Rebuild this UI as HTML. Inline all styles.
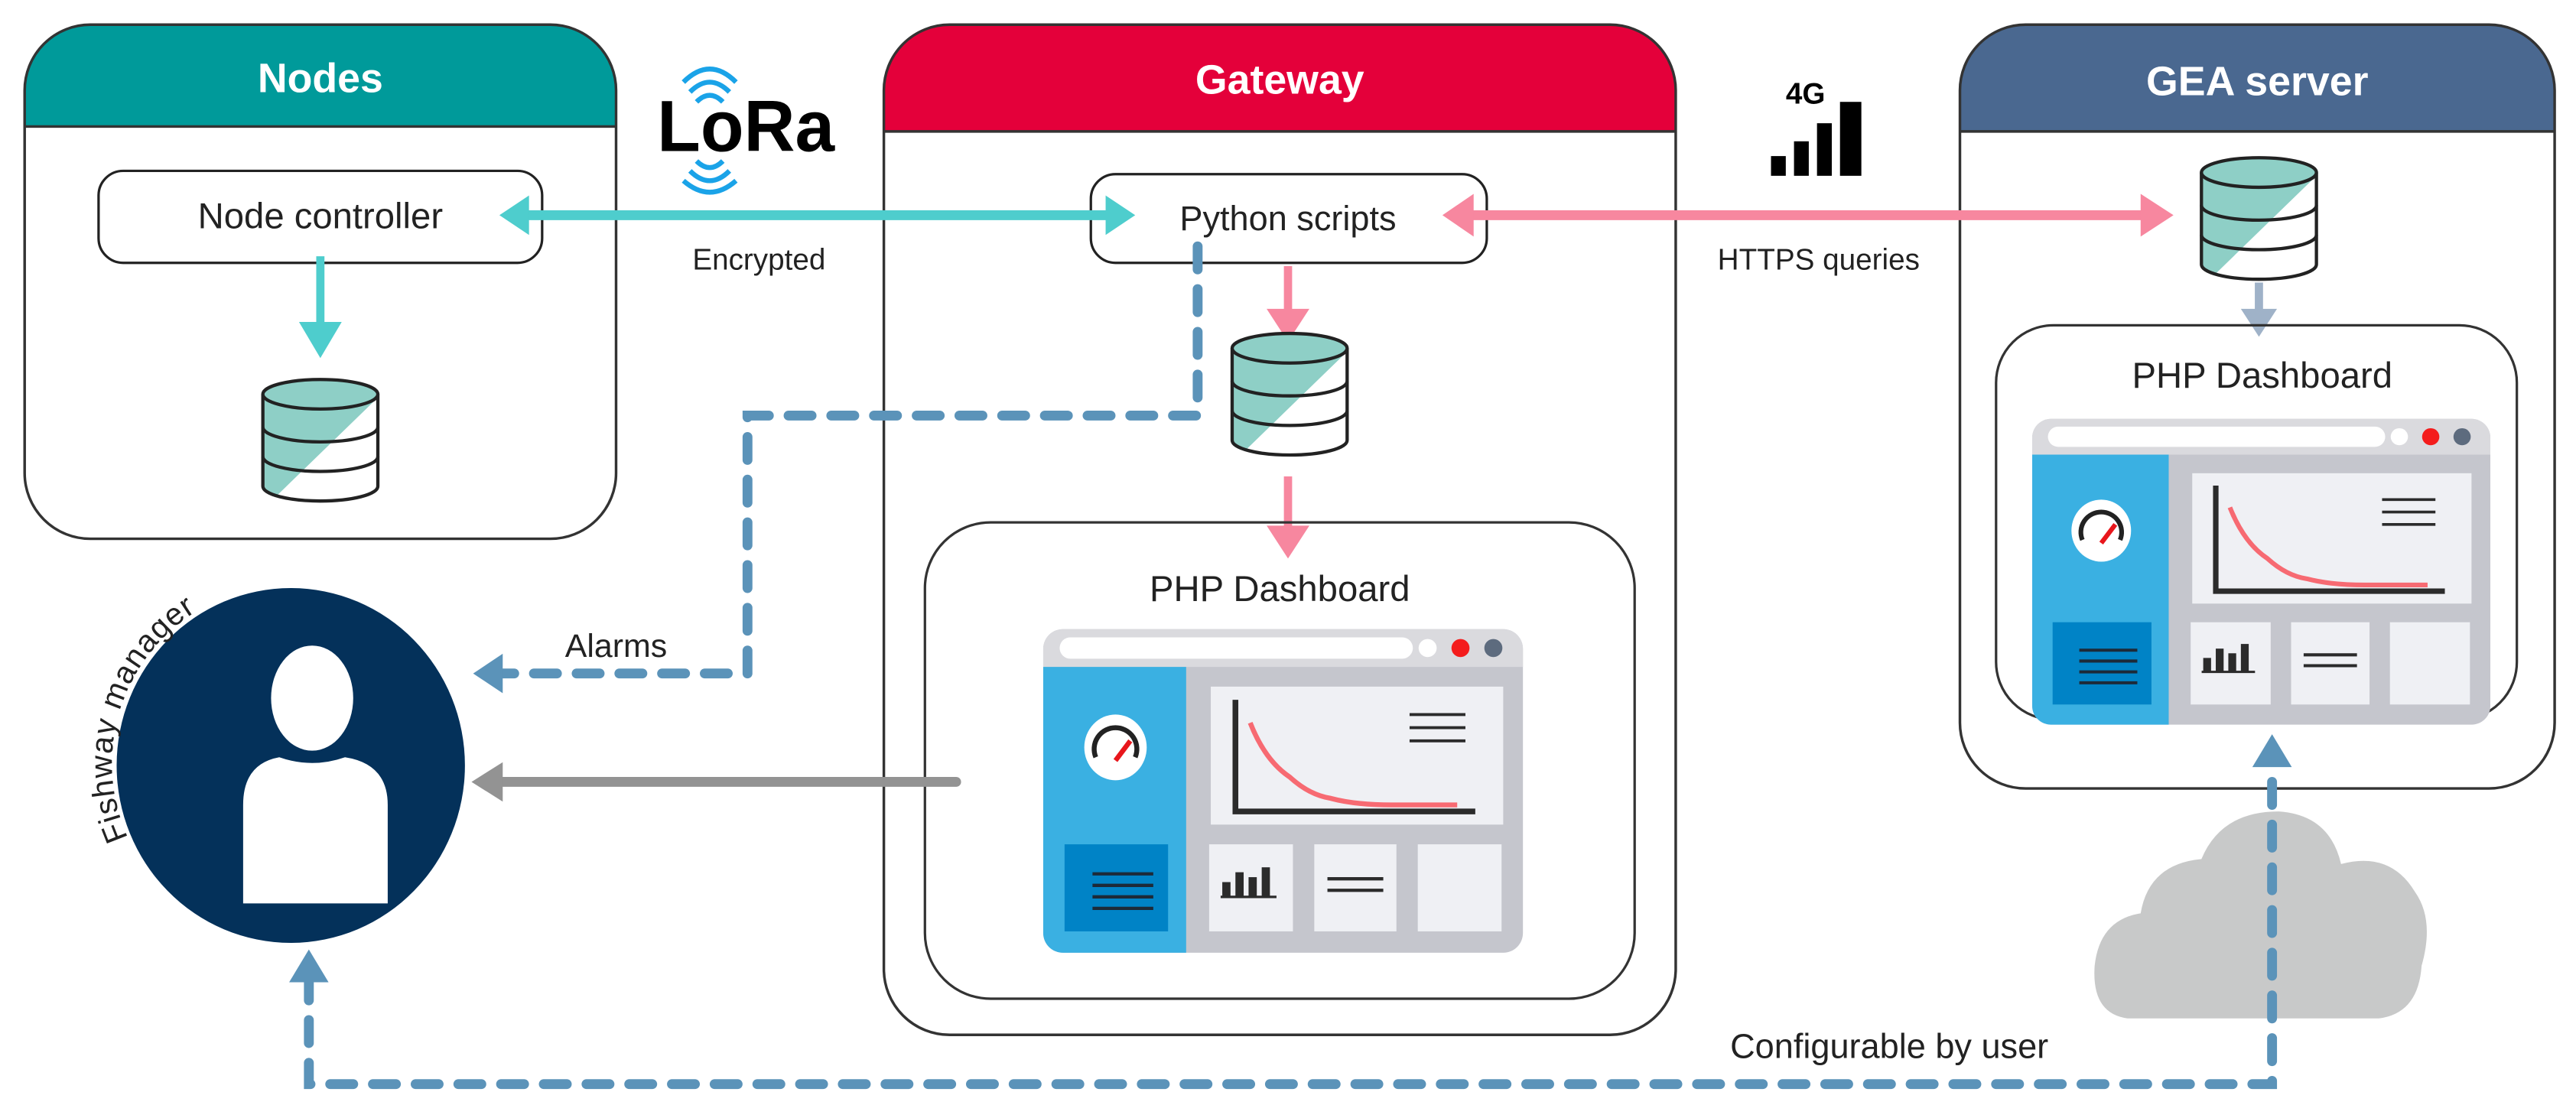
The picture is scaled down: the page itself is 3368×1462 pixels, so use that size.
<!DOCTYPE html>
<html><head><meta charset="utf-8"><style>
html,body{margin:0;padding:0;background:#fff;}
svg{display:block;}
text{font-family:"Liberation Sans",Arial,sans-serif;}
</style></head><body>
<svg width="3368" height="1462" viewBox="0 0 1568 680.6" xmlns="http://www.w3.org/2000/svg">
<defs>
  <clipPath id="cyl"><path d="M0,10 L0,66 A35,9 0 0 0 70,66 L70,10 A35,9 0 0 0 0,10 Z"/></clipPath>
  <g id="db">
    <path d="M0,10 L0,66 A35,9 0 0 0 70,66 L70,10 Z" fill="#fff"/>
    <polygon points="0,0 70,0 70,12 0,80" fill="#8ecfc6" clip-path="url(#cyl)"/>
    <path d="M0,10 L0,66 A35,9 0 0 0 70,66 L70,10" fill="none" stroke="#222" stroke-width="2"/>
    <ellipse cx="35" cy="10" rx="35" ry="9" fill="#8ecfc6" stroke="#222" stroke-width="2"/>
    <path d="M0,30 A35,9 0 0 0 70,30 M0,48 A35,9 0 0 0 70,48" fill="none" stroke="#222" stroke-width="2"/>
  </g>
  <g id="dash">
    <rect x="0" y="0" width="292" height="197" rx="12" fill="#c5c6cd"/>
    <path d="M12,0 H280 A12,12 0 0 1 292,12 V23 H0 V12 A12,12 0 0 1 12,0 Z" fill="#dadade"/>
    <rect x="10" y="5" width="215" height="13" rx="6.5" fill="#fff"/>
    <circle cx="234" cy="11.5" r="5.5" fill="#fff"/>
    <circle cx="254" cy="11.5" r="5.5" fill="#f41c1c"/>
    <circle cx="274" cy="11.5" r="5.5" fill="#5d6b7e"/>
    <path d="M0,23 H87 V197 H12 A12,12 0 0 1 0,185 Z" fill="#3ab0e2"/>
    <rect x="13" y="131" width="63" height="53" fill="#0083c6"/>
    <path d="M30,149 H67 M30,156 H67 M30,163 H67 M30,170 H67" stroke="#1d2a38" stroke-width="2"/>
    <ellipse cx="44" cy="72" rx="19" ry="20" fill="#fff"/>
    <path d="M32,78 A13,13 0 1 1 56,78" fill="none" stroke="#222" stroke-width="3"/>
    <path d="M44,80 L53,68" stroke="#e8161c" stroke-width="3"/>
    <rect x="102" y="35" width="178" height="84" fill="#eff0f4"/>
    <path d="M117,43 V111 H263" fill="none" stroke="#2b2b2b" stroke-width="3.5"/>
    <path d="M126,57 Q135,80 150,90 Q162,101 175,103 Q190,107 212,107 L252,107" fill="none" stroke="#f76a72" stroke-width="3"/>
    <path d="M223,52 H257 M223,60 H257 M223,68 H257" stroke="#2b2b2b" stroke-width="1.8"/>
    <rect x="101" y="131" width="51" height="53" fill="#eff0f4"/>
    <rect x="165" y="131" width="50" height="53" fill="#eff0f4"/>
    <rect x="228" y="131" width="51" height="53" fill="#eff0f4"/>
    <path d="M108,163 H142" stroke="#2b2b2b" stroke-width="1.5"/>
    <rect x="109" y="154" width="5" height="9" fill="#2b2b2b"/>
    <rect x="117" y="148" width="5" height="15" fill="#2b2b2b"/>
    <rect x="125" y="151" width="5" height="12" fill="#2b2b2b"/>
    <rect x="133" y="145" width="5" height="18" fill="#2b2b2b"/>
    <path d="M173,152 H207 M173,159 H207" stroke="#2b2b2b" stroke-width="2"/>
  </g>
  <path id="arcp" d="M78,510 A109,109 0 0 1 185,356" fill="none"/>
</defs>

<!-- Nodes box -->
<path d="M55,15 H335 A40,40 0 0 1 375,55 V77 H15 V55 A40,40 0 0 1 55,15 Z" fill="#009a9a"/>
<rect x="15" y="15" width="360" height="313" rx="40" fill="none" stroke="#333" stroke-width="1.6"/>
<line x1="15" y1="77" x2="375" y2="77" stroke="#333" stroke-width="1.6"/>
<text x="195" y="56" font-size="25" font-weight="bold" fill="#fff" text-anchor="middle">Nodes</text>
<rect x="60" y="104" width="270" height="56" rx="15" fill="#fff" stroke="#222" stroke-width="1.5"/>
<text x="195" y="139" font-size="22" fill="#222" text-anchor="middle">Node controller</text>
<line x1="195" y1="156" x2="195" y2="198" stroke="#4ecdcd" stroke-width="5"/>
<polygon points="182,196 208,196 195,218" fill="#4ecdcd"/>
<use href="#db" x="160" y="230"/>

<!-- LoRa -->
<text x="400" y="92" font-size="44" font-weight="bold" fill="#000" textLength="108" lengthAdjust="spacingAndGlyphs">LoRa</text>
<path d="M424,62 Q432,54 440,62 M420,56 Q432,44 444,56 M416,50 Q432,34 448,50" fill="none" stroke="#1aa3e8" stroke-width="3"/>
<path d="M424,98 Q432,106 440,98 M420,104 Q432,116 444,104 M416,110 Q432,124 448,110" fill="none" stroke="#1aa3e8" stroke-width="3"/>
<text x="462" y="164" font-size="18" fill="#222" text-anchor="middle">Encrypted</text>

<!-- Gateway -->
<path d="M578,15 H980 A40,40 0 0 1 1020,55 V80 H538 V55 A40,40 0 0 1 578,15 Z" fill="#e4003a"/>
<rect x="538" y="15" width="482" height="615" rx="40" fill="none" stroke="#333" stroke-width="1.6"/>
<line x1="538" y1="80" x2="1020" y2="80" stroke="#333" stroke-width="1.6"/>
<text x="779" y="57" font-size="25" font-weight="bold" fill="#fff" text-anchor="middle">Gateway</text>
<rect x="664" y="106" width="241" height="54" rx="15" fill="#fff" stroke="#222" stroke-width="1.5"/>
<text x="784" y="140" font-size="21" fill="#222" text-anchor="middle">Python scripts</text>
<line x1="784" y1="162" x2="784" y2="190" stroke="#f7879f" stroke-width="5"/>
<polygon points="771,188 797,188 784,208" fill="#f7879f"/>
<use href="#db" x="750" y="202"/>
<line x1="784" y1="290" x2="784" y2="322" stroke="#f7879f" stroke-width="5"/>
<polygon points="771,320 797,320 784,340" fill="#f7879f"/>
<rect x="563" y="318" width="432" height="290" rx="40" fill="none" stroke="#333" stroke-width="1.5"/>
<text x="779" y="366" font-size="22" fill="#222" text-anchor="middle">PHP Dashboard</text>
<use href="#dash" x="635" y="383"/>

<!-- 4G -->
<text x="1087" y="63" font-size="18" font-weight="bold" fill="#000">4G</text>
<rect x="1078" y="95" width="9" height="12" fill="#000"/>
<rect x="1092" y="86" width="9" height="21" fill="#000"/>
<rect x="1106" y="75" width="9" height="32" fill="#000"/>
<rect x="1120" y="62" width="13" height="45" fill="#000"/>
<text x="1107" y="164" font-size="18" fill="#222" text-anchor="middle">HTTPS queries</text>

<!-- GEA server -->
<path d="M1233,15 H1515 A40,40 0 0 1 1555,55 V80 H1193 V55 A40,40 0 0 1 1233,15 Z" fill="#4a6890"/>
<rect x="1193" y="15" width="362" height="465" rx="40" fill="none" stroke="#333" stroke-width="1.6"/>
<line x1="1193" y1="80" x2="1555" y2="80" stroke="#333" stroke-width="1.6"/>
<text x="1374" y="58" font-size="25" font-weight="bold" fill="#fff" text-anchor="middle">GEA server</text>
<use href="#db" x="1340" y="95"/>
<line x1="1375" y1="172" x2="1375" y2="190" stroke="#9fb2c8" stroke-width="5"/>
<polygon points="1364,188 1386,188 1375,205" fill="#9fb2c8"/>
<rect x="1215" y="198" width="317" height="240" rx="35" fill="none" stroke="#333" stroke-width="1.5"/>
<text x="1377" y="236" font-size="22" fill="#222" text-anchor="middle">PHP Dashboard</text>
<g transform="translate(1237,255) scale(0.955,0.945)"><use href="#dash"/></g>

<!-- teal LoRa arrow (drawn over boxes) -->
<line x1="320" y1="131" x2="676" y2="131" stroke="#4ecdcd" stroke-width="6"/>
<polygon points="304,131 322,119 322,143" fill="#4ecdcd"/>
<polygon points="691,131 673,119 673,143" fill="#4ecdcd"/>

<!-- pink https arrow -->
<line x1="895" y1="131" x2="1305" y2="131" stroke="#f7879f" stroke-width="6"/>
<polygon points="878,131 897,118 897,144" fill="#f7879f"/>
<polygon points="1323,131 1303,118 1303,144" fill="#f7879f"/>

<!-- cloud -->
<path d="M1295,620 Q1273,617 1275,588 Q1278,560 1303,556 Q1308,526 1340,523 Q1352,494 1387,494 Q1418,496 1425,526 Q1455,518 1470,543 Q1482,560 1474,588 Q1472,617 1448,620 Z" fill="#c8c9c9"/>

<!-- Fishway manager -->
<ellipse cx="177" cy="466" rx="106" ry="108" fill="#04315a"/>
<ellipse cx="190" cy="425" rx="25" ry="32" fill="#fff"/>
<path d="M148,550 V490 Q148,465 170,461 Q190,468 210,461 Q236,465 236,490 V550 Z" fill="#fff"/>
<text font-size="19" fill="#222" letter-spacing="0.5"><textPath href="#arcp">Fishway manager</textPath></text>

<!-- gray arrow -->
<line x1="582" y1="476" x2="305" y2="476" stroke="#939393" stroke-width="6" stroke-linecap="round"/>
<polygon points="287,476 306,464 306,488" fill="#939393"/>

<!-- Alarms dashed -->
<path d="M729,150 V253 H455 V410 H305" fill="none" stroke="#5b93b9" stroke-width="6" stroke-dasharray="14,12" stroke-linecap="round"/>
<polygon points="288,410 306,398 306,422" fill="#5b93b9"/>
<text x="375" y="400" font-size="20" fill="#222" text-anchor="middle">Alarms</text>

<!-- configurable dashed -->
<path d="M188,595 V660 H1383 V470" fill="none" stroke="#5b93b9" stroke-width="6" stroke-dasharray="14,12" stroke-linecap="round"/>
<polygon points="188,578 176,598 200,598" fill="#5b93b9"/>
<polygon points="1383,447 1371,467 1395,467" fill="#5b93b9"/>
<text x="1150" y="644" font-size="21" fill="#222" text-anchor="middle">Configurable by user</text>
</svg>
</body></html>
